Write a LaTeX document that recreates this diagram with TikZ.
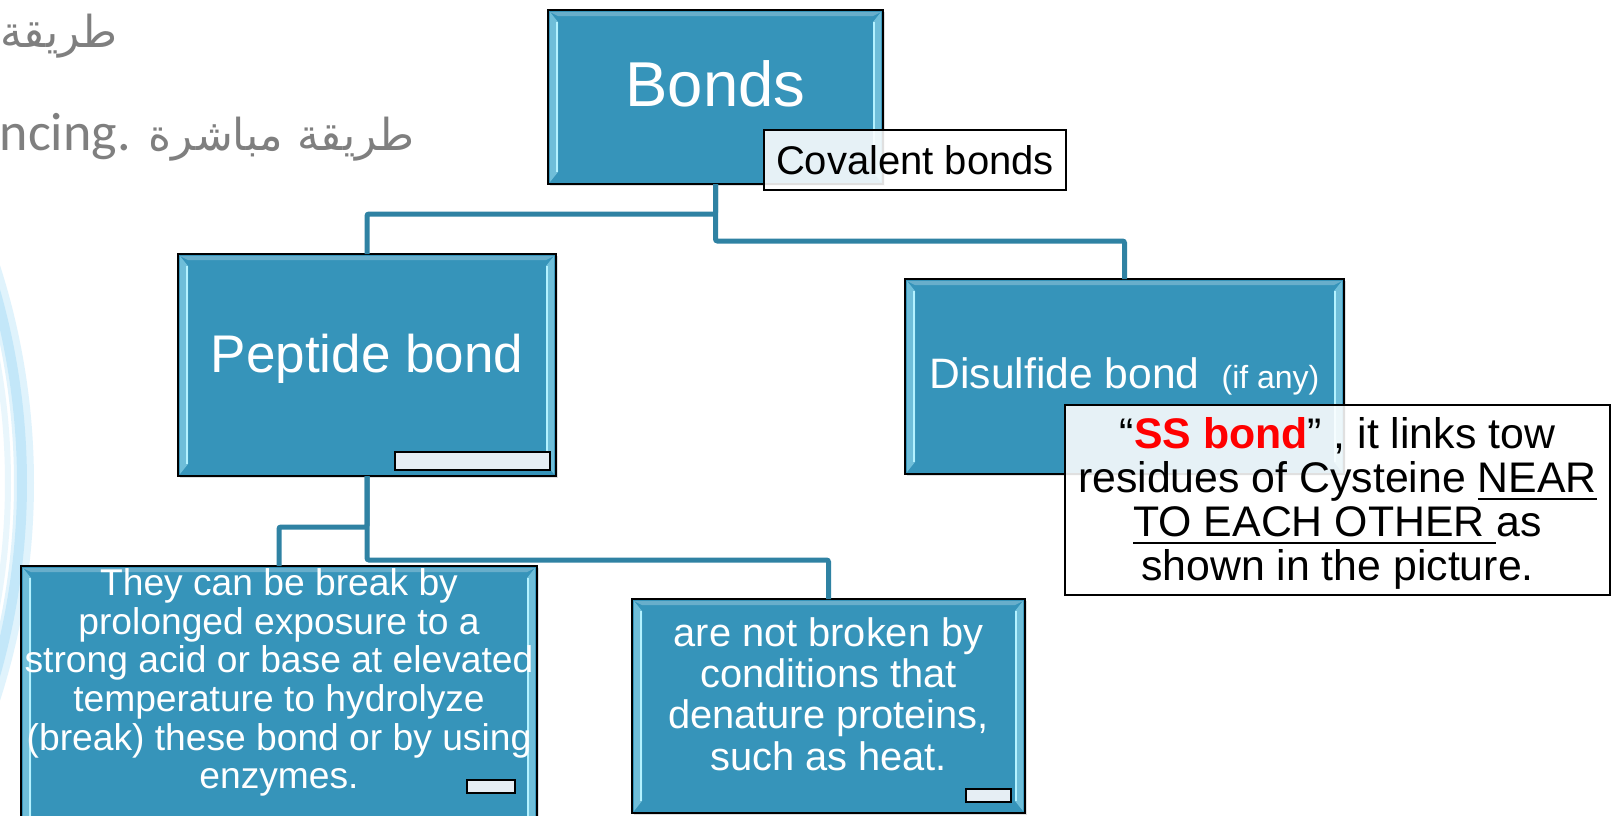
\documentclass[tikz,border=0pt]{standalone}
\usepackage{fontspec}
\setmainfont{Liberation Sans}
\newfontfamily\arabicfont[Script=Arabic]{DejaVu Sans}
\newfontfamily\calibrifont{Carlito}
\usetikzlibrary{shadows}
\TeXXeTstate=1
\definecolor{boxteal}{HTML}{3694BA}
\definecolor{linkteal}{HTML}{2F82A3}
\definecolor{hilite}{HTML}{B4F2FF}
\definecolor{slidegrey}{HTML}{7F7F7F}
\definecolor{ringblue}{HTML}{A8DDF7}
\definecolor{stubfill}{HTML}{E6EEF4}
\newcommand{\ulword}[1]{\setbox0\hbox{#1}\rlap{\rule[-3.5pt]{\wd0}{1pt}}\box0}
\newcommand{\bevelbars}{%
  \fill[boxteal!55!hilite]
    ([shift={(1pt,-1pt)}]path picture bounding box.north west) -- ([shift={(5pt,-6pt)}]path picture bounding box.north west)
    -- ([shift={(5pt,6pt)}]path picture bounding box.south west) -- ([shift={(1pt,1pt)}]path picture bounding box.south west) -- cycle;
  \fill[boxteal!55!hilite]
    ([shift={(-5pt,-6pt)}]path picture bounding box.north east) -- ([shift={(-1pt,-1pt)}]path picture bounding box.north east)
    -- ([shift={(-1pt,1pt)}]path picture bounding box.south east) -- ([shift={(-5pt,6pt)}]path picture bounding box.south east) -- cycle;
  \draw[hilite, line width=1.3pt]
    ([shift={(4.5pt,-6pt)}]path picture bounding box.north west) -- ([shift={(4.5pt,6pt)}]path picture bounding box.south west);
  \draw[hilite, line width=1.3pt]
    ([shift={(-4.5pt,-6pt)}]path picture bounding box.north east) -- ([shift={(-4.5pt,6pt)}]path picture bounding box.south east);
  \fill[white, opacity=0.25]
    ([shift={(1pt,-1pt)}]path picture bounding box.north west) -- ([shift={(-1pt,-1pt)}]path picture bounding box.north east)
    -- ([shift={(-5pt,-3pt)}]path picture bounding box.north east) -- ([shift={(5pt,-3pt)}]path picture bounding box.north west) -- cycle;
}

\begin{document}
\begin{tikzpicture}[x=0.5pt,y=-0.5pt,
  box/.style={draw=black, line width=0.8pt, fill=boxteal, inner sep=0pt, outer sep=0pt,
    path picture={\bevelbars}, drop shadow={opacity=0.25, shadow xshift=1pt, shadow yshift=-1pt}},
  note/.style={draw=black, line width=0.8pt, fill=white, fill opacity=0.88, text opacity=1, inner sep=0pt, outer sep=0pt},
  stub/.style={draw=black, line width=1pt, fill=stubfill, inner sep=0pt},
  boxtext/.style={text=white, align=center, inner sep=0pt},
  link/.style={draw=linkteal, line width=2.5pt, rounded corners=1pt},
  ring/.style={draw=ringblue, line width=5pt, opacity=0.35}]
\useasboundingbox (0,0) rectangle (1617,815);
\clip (0,0) rectangle (1617,815);
\fill[white] (0,0) rectangle (1617,815);
\draw[ring, line width=10pt] (-676,483) circle (700);
\draw[ring, line width=5pt, opacity=0.5] (-676,483) circle (698);
\draw[ring, line width=3pt, opacity=0.25] (-676,483) circle (684);

\node[anchor=base east, text=slidegrey, inner sep=0pt, font=\arabicfont\fontsize{22}{26}\selectfont] (arline1) at (118,47) {\beginR طريقة\endR};
\node[anchor=base east, text=slidegrey, inner sep=0pt] (arline2) at (415,150) {{\calibrifont\fontsize{27}{32}\selectfont ncing.}\hspace{9pt}{\arabicfont\fontsize{22}{26}\selectfont\beginR طريقة مباشرة\endR}};

\node[box, minimum width=167.5pt, minimum height=87pt] (bonds) at (715.5,97) {};
\node[boxtext, font=\fontsize{31.7}{36}\selectfont, anchor=base] (bondstxt) at (715.5,106) {Bonds};
\node[note, minimum width=151pt, minimum height=30pt, font=\fontsize{20}{24}\selectfont] (covalent) at (915,160) {Covalent bonds};

\node[box, minimum width=189pt, minimum height=111pt] (peptide) at (367,365) {};
\node[boxtext, font=\fontsize{26.5}{31}\selectfont, anchor=base] (peptidetxt) at (367,372) {Peptide bond};
\node[stub, minimum width=77.5pt, minimum height=9pt] (peptidestub) at (472.5,461) {};

\node[box, minimum width=219.5pt, minimum height=97.5pt] (disulfide) at (1124.5,376.5) {};
\node[boxtext, font=\fontsize{21.3}{26}\selectfont, anchor=base] (disulfidetxt) at (1124.5,388)
  {Disulfide bond\hspace{11pt}{\fontsize{16}{19}\selectfont(if any)}};

\node[box, minimum width=258pt, minimum height=134.5pt] (breakbox) at (279,700.5) {};
\node[boxtext, font=\fontsize{18.6}{19.3}\selectfont] (breaktxt) at (279,682.5)
  {They can be break by\\prolonged exposure to a\\strong acid or base at elevated\\temperature to hydrolyze\\(break) these bond or by using\\enzymes.};
\node[stub, minimum width=24pt, minimum height=6.5pt] (breakstub) at (491,786.5) {};

\node[box, minimum width=196.5pt, minimum height=107pt] (heatbox) at (828.5,706) {};
\node[boxtext, font=\fontsize{19.9}{20.6}\selectfont] (heattxt) at (828.5,694)
  {are not broken by\\conditions that\\denature proteins,\\such as heat.};
\node[stub, minimum width=22.5pt, minimum height=6.5pt] (heatstub) at (988.5,795.5) {};

\node[note, minimum width=272.5pt, minimum height=95pt, align=center, font=\fontsize{21.4}{22}\selectfont] (ssnote) at (1337.5,500)
  {\rule{0pt}{19pt}“\textcolor{red}{\textbf{SS bond}}” , it links tow\\residues of Cysteine \ulword{NEAR}\\\ulword{TO EACH OTHER\ }as\\shown in the picture.};

\draw[link] (bonds.south) -- ++(0,30) -| (peptide.north);
\draw[link] (bonds.south) -- ++(0,57) -| (disulfide.north);
\draw[link] (peptide.south) -- ++(0,51) -| (breakbox.north);
\draw[link] (peptide.south) -- ++(0,84) -| (heatbox.north);
\end{tikzpicture}
\end{document}
